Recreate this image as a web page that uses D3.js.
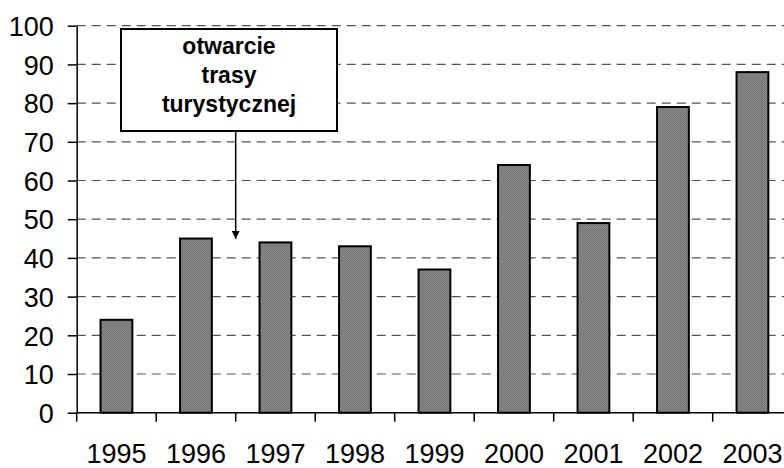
<!DOCTYPE html>
<html>
<head>
<meta charset="utf-8">
<script src="https://cdn.jsdelivr.net/npm/d3@7"></script>
<style>
  body { margin: 0; background: #fff; }
  svg { display: block; font-family: "Liberation Sans", Arial, sans-serif; }
</style>
</head>
<body>
<div id="chart"></div>
<script>
// data
const years = ['1995', '1996', '1997', '1998', '1999', '2000', '2001', '2002', '2003'];
const values = [24, 45, 44, 43, 37, 64, 49, 79, 88];
const yTicks = [0, 10, 20, 30, 40, 50, 60, 70, 80, 90, 100];
const noteLines = ['otwarcie', 'trasy', 'turystycznej'];
const noteYear = '1996'; // arrow points between 1996 and 1997

const W = 784, H = 468;
const plotLeft = 76.7, plotTop = 25.7, plotBottom = 412.7;
const step = 79.5;

const svg = d3.select('#chart').append('svg')
  .attr('width', W)
  .attr('height', H);

// dithered grey fill like the original bars
const defs = svg.append('defs');
const pat = defs.append('pattern')
  .attr('id', 'dots')
  .attr('width', 2).attr('height', 2)
  .attr('patternUnits', 'userSpaceOnUse');
pat.append('rect').attr('width', 2).attr('height', 2).attr('fill', '#878787');
pat.append('rect').attr('width', 1).attr('height', 1).attr('fill', '#767676');
pat.append('rect').attr('x', 1).attr('y', 1).attr('width', 1).attr('height', 1).attr('fill', '#787878');

const x = d3.scaleBand()
  .domain(years)
  .range([plotLeft, plotLeft + step * years.length])
  .paddingInner(0.6)
  .paddingOuter(0.3);

const y = d3.scaleLinear()
  .domain([0, 100])
  .range([plotBottom, plotTop]);

// dashed grid
svg.append('g')
  .selectAll('line')
  .data(yTicks.filter(d => d > 0))
  .enter()
  .append('line')
  .attr('x1', plotLeft)
  .attr('x2', W)
  .attr('y1', d => y(d))
  .attr('y2', d => y(d))
  .attr('stroke', '#555')
  .attr('stroke-width', 1.2)
  .attr('stroke-dasharray', '9,6');

// bars
svg.append('g')
  .selectAll('rect')
  .data(values)
  .enter()
  .append('rect')
  .attr('x', (d, i) => x(years[i]))
  .attr('y', d => y(d))
  .attr('width', x.bandwidth())
  .attr('height', d => plotBottom - y(d))
  .attr('fill', 'url(#dots)')
  .attr('stroke', '#000')
  .attr('stroke-width', 2);

// y axis
const yAxis = svg.append('g')
  .attr('transform', `translate(${plotLeft},0)`)
  .call(d3.axisLeft(y).tickValues(yTicks).tickSize(9).tickPadding(14).tickSizeOuter(0));
yAxis.select('.domain').attr('stroke', '#000').attr('stroke-width', 1.5);
yAxis.selectAll('.tick line').attr('stroke', '#000').attr('stroke-width', 1.5);
yAxis.selectAll('text')
  .attr('font-size', 27)
  .attr('font-family', '"Liberation Sans", Arial, sans-serif')
  .attr('fill', '#000')
  .attr('dy', '0.36em');

// x axis: line, ticks between categories, labels centred
const xg = svg.append('g');
xg.append('line')
  .attr('x1', plotLeft).attr('x2', W)
  .attr('y1', plotBottom).attr('y2', plotBottom)
  .attr('stroke', '#000').attr('stroke-width', 1.5);
xg.selectAll('.xt')
  .data(d3.range(years.length + 1))
  .enter()
  .append('line')
  .attr('x1', i => plotLeft + i * x.step())
  .attr('x2', i => plotLeft + i * x.step())
  .attr('y1', plotBottom)
  .attr('y2', plotBottom + 9)
  .attr('stroke', '#000').attr('stroke-width', 1.5);
xg.selectAll('text')
  .data(years)
  .enter()
  .append('text')
  .attr('x', d => x(d) + x.bandwidth() / 2)
  .attr('y', 463)
  .attr('text-anchor', 'middle')
  .attr('font-size', 27)
  .attr('fill', '#000')
  .text(d => d);

// annotation box with arrow
const arrowX = x(noteYear) + x.bandwidth() + (x.step() - x.bandwidth()) / 2;
defs.append('marker')
  .attr('id', 'arr')
  .attr('viewBox', '0 0 10 10')
  .attr('refX', 10).attr('refY', 5)
  .attr('markerWidth', 8).attr('markerHeight', 8)
  .attr('markerUnits', 'userSpaceOnUse')
  .attr('orient', 'auto')
  .append('path')
  .attr('d', 'M0,0L10,5L0,10Z')
  .attr('fill', '#000');

svg.append('line')
  .attr('x1', arrowX).attr('x2', arrowX)
  .attr('y1', 131).attr('y2', 239)
  .attr('stroke', '#000')
  .attr('stroke-width', 1.5)
  .attr('marker-end', 'url(#arr)');

svg.append('rect')
  .attr('x', 121).attr('y', 29)
  .attr('width', 216).attr('height', 102)
  .attr('fill', '#fff')
  .attr('stroke', '#000')
  .attr('stroke-width', 2);

svg.append('text')
  .attr('text-anchor', 'middle')
  .attr('font-size', 23)
  .attr('font-weight', 'bold')
  .attr('fill', '#000')
  .selectAll('tspan')
  .data(noteLines)
  .enter()
  .append('tspan')
  .attr('x', 229)
  .attr('y', (d, i) => 54 + i * 29)
  .text(d => d);
</script>
</body>
</html>
